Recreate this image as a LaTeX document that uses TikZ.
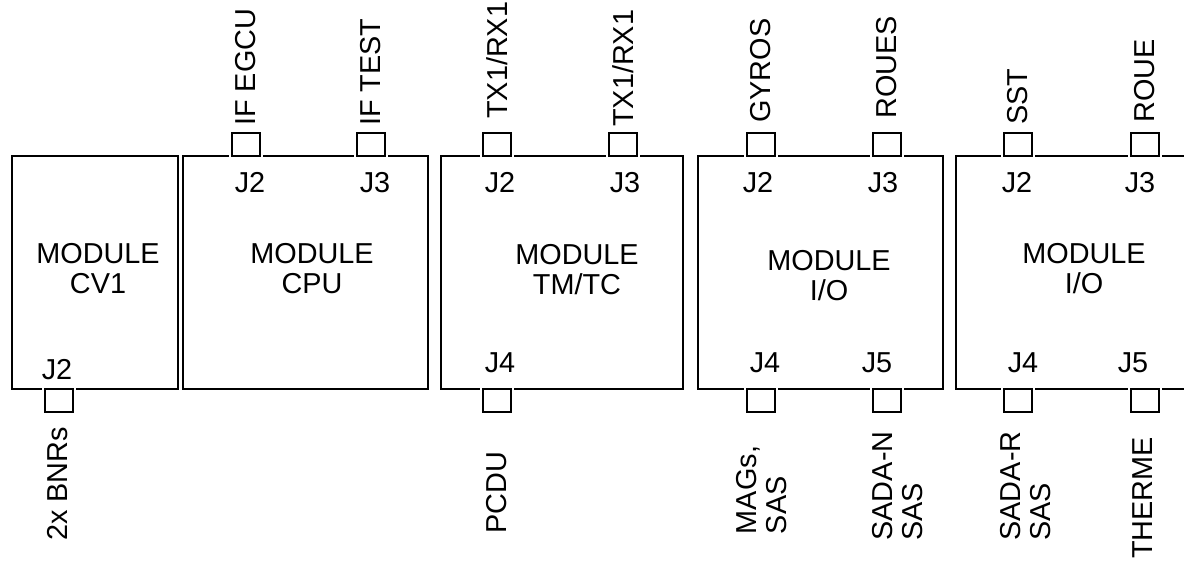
\documentclass[tikz,border=0pt]{standalone}
\usepackage{fontspec}
\setmainfont{Liberation Sans}
\begin{document}
\begin{tikzpicture}[x=0.025cm,y=-0.025cm,line join=miter]
  \def\px{0.025cm}
  \tikzset{
    modbox/.style={draw,line width=1.2pt,minimum width=245*\px,minimum height=233*\px,inner sep=0pt},
    jack/.style={draw,line width=1.2pt,fill=white,minimum width=28*\px,minimum height=23*\px,inner sep=0pt,
      preaction={draw=white,line width=4.5pt}},
    jlab/.style={font=\fontsize{20.5}{21.3}\selectfont,inner sep=0pt},
    modlab/.style={font=\fontsize{20.5}{21.3}\selectfont,align=center,inner sep=0pt},
    toplab/.style={font=\fontsize{20.5}{21.3}\selectfont,rotate=90,anchor=west,inner sep=0pt},
    botlab/.style={font=\fontsize{20.5}{21.3}\selectfont,rotate=90,align=left,inner sep=0pt},
  }
  \useasboundingbox (0,0) rectangle (1184,563);
  \clip (0,0) rectangle (1184,563);

  % ==================== modules ====================
  \node[modbox,minimum width=166*\px] (cv) at (95,272.5) {};
  \node[modbox] (cpu) at (305.5,272.5) {};
  \node[modbox,minimum width=242*\px] (tm) at (562,272.5) {};
  \node[modbox] (ioa) at (820.5,272.5) {};
  \node[modbox] (iob) at (1078.5,272.5) {};

  \node[modlab] (cvname) at (98,269) {MODULE\\CV1};
  \node[modlab] (cpuname) at (312,269) {MODULE\\CPU};
  \node[modlab] (tmname) at (577,270) {MODULE\\TM/TC};
  \node[modlab] (ioaname) at (829,276) {MODULE\\I/O};
  \node[modlab] (iobname) at (1084,269) {MODULE\\I/O};

  % ==================== connectors ====================
  \node[jack] (cvJ2) at (59,400.5) {};
  \node[jack] (cpuJ2) at (246,144.5) {};
  \node[jack] (cpuJ3) at (371,144.5) {};
  \node[jack] (tmJ2) at (497,144.5) {};
  \node[jack] (tmJ3) at (623,144.5) {};
  \node[jack] (tmJ4) at (497,400.5) {};
  \node[jack] (ioaJ2) at (761,144.5) {};
  \node[jack] (ioaJ3) at (887,144.5) {};
  \node[jack] (ioaJ4) at (761,400.5) {};
  \node[jack] (ioaJ5) at (887,400.5) {};
  \node[jack] (iobJ2) at (1018,144.5) {};
  \node[jack] (iobJ3) at (1145,144.5) {};
  \node[jack] (iobJ4) at (1018,400.5) {};
  \node[jack] (iobJ5) at (1145,400.5) {};

  % connector numbers
  \node[jlab] (cvJ2n) at (57,370) {J2};
  \node[jlab] (cpuJ2n) at (250,183) {J2};
  \node[jlab] (cpuJ3n) at (375,183) {J3};
  \node[jlab] (tmJ2n) at (500,183) {J2};
  \node[jlab] (tmJ3n) at (625,183) {J3};
  \node[jlab] (tmJ4n) at (500,363) {J4};
  \node[jlab] (ioaJ2n) at (758,183) {J2};
  \node[jlab] (ioaJ3n) at (883,183) {J3};
  \node[jlab] (ioaJ4n) at (765,363) {J4};
  \node[jlab] (ioaJ5n) at (877,363) {J5};
  \node[jlab] (iobJ2n) at (1017,183) {J2};
  \node[jlab] (iobJ3n) at (1140,183) {J3};
  \node[jlab] (iobJ4n) at (1023,363) {J4};
  \node[jlab] (iobJ5n) at (1133,363) {J5};

  % ==================== signal names ====================
  \node[toplab] (cpuJ2s) at (246,126) {IF EGCU};
  \node[toplab] (cpuJ3s) at (371,126) {IF TEST};
  \node[toplab] (tmJ2s) at (497,119) {TX1/RX1};
  \node[toplab] (tmJ3s) at (623,127) {TX1/RX1};
  \node[toplab] (ioaJ2s) at (761,123) {GYROS};
  \node[toplab] (ioaJ3s) at (887,119) {ROUES};
  \node[toplab] (iobJ2s) at (1018,125) {SST};
  \node[toplab] (iobJ3s) at (1145,123) {ROUE};

  \node[botlab] (cvJ2s) at (58,484) {2x BNRs};
  \node[botlab] (tmJ4s) at (497,493) {PCDU};
  \node[botlab] (ioaJ4s) at (762,490) {MAGs,\\SAS};
  \node[botlab] (ioaJ5s) at (898,486) {SADA-N\\SAS};
  \node[botlab] (iobJ4s) at (1026,486) {SADA-R\\SAS};
  \node[botlab] (iobJ5s) at (1143,498) {THERME};
\end{tikzpicture}
\end{document}
